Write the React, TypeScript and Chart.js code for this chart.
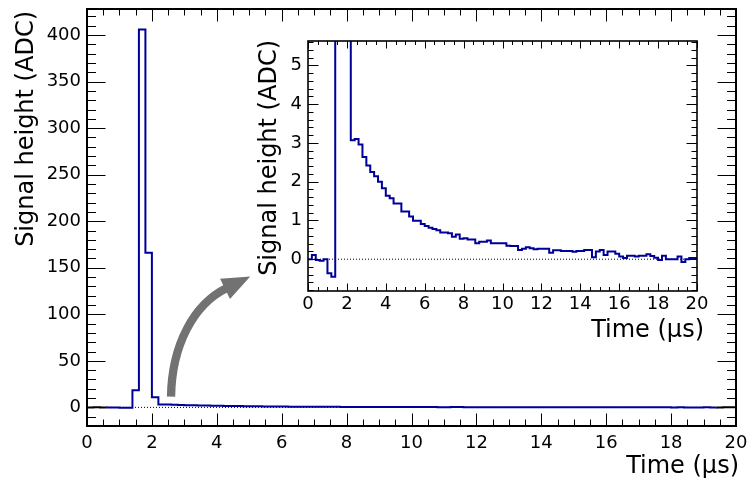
import React, { useEffect, useRef } from "react";
import { Chart, registerables } from "chart.js";

Chart.register(...registerables);

// ---------------- data ----------------
const BIN_WIDTH_US = 0.2;
const TIME_MIN_US = 0;
const TIME_MAX_US = 20;

// signal per 0.2 µs bin (ADC), bins start at 0, 0.2, 0.4 ... 19.8 µs
const signalADC = [
  0.0, 0.11, -0.02, -0.04, 0.0, -0.36, -0.45, 18.5, 406, 166,
  11, 3.07, 3.1, 2.96, 2.64, 2.42, 2.25, 2.14, 2.0, 1.83,
  1.64, 1.57, 1.44, 1.44, 1.23, 1.23, 1.1, 0.99, 0.99, 0.91,
  0.86, 0.81, 0.78, 0.75, 0.69, 0.69, 0.67, 0.58, 0.64, 0.53,
  0.54, 0.51, 0.51, 0.41, 0.45, 0.45, 0.48, 0.41, 0.41, 0.41,
  0.41, 0.35, 0.34, 0.34, 0.24, 0.27, 0.31, 0.28, 0.26, 0.27,
  0.27, 0.27, 0.17, 0.23, 0.23, 0.21, 0.21, 0.21, 0.19, 0.21,
  0.21, 0.24, 0.24, 0.05, 0.2, 0.24, 0.11, 0.2, 0.2, 0.14,
  0.07, 0.03, 0.09, 0.09, 0.07, 0.09, 0.09, 0.13, 0.08, 0.04,
  -0.02, 0.09, 0.0, 0.0, 0.0, 0.07, -0.07, 0.0, 0.03, 0.03,
];

const xTickValues = [0, 2, 4, 6, 8, 10, 12, 14, 16, 18, 20];
const mainYTickValues = [0, 50, 100, 150, 200, 250, 300, 350, 400];
const insetYTickValues = [0, 1, 2, 3, 4, 5];

const mainYRange = [-20, 428];
const insetYRange = [-0.82, 5.63];
const xMinorStep = 0.5;
const mainYMinorStep = 10;
const insetYMinorStep = 0.2;
const zeroLine = [
  { x: TIME_MIN_US, y: 0 },
  { x: TIME_MAX_US, y: 0 },
];
// main-chart segments drawn in black (outside the blue read-out window)
const blackBefore = 0.5;
const blackAfter = 19.3;
// arrow, in main-chart data coordinates (µs, ADC)
const arrowTail = { x: 2.59, y: 11.6 };
const arrowTip = { x: 5.03, y: 140.5 };

const xTitle = "Time (µs)";
const yTitle = "Signal height (ADC)";

// ---------------- style ----------------
const FONT = "'DejaVu Sans', Verdana, sans-serif";
const BLUE = "#000099";
const GREY = "#727272";
const TITLE_SIZE = 24;
const TICK_SIZE = 18;

function histogramPoints() {
  const pts = signalADC.map((v, i) => ({ x: TIME_MIN_US + i * BIN_WIDTH_US, y: v }));
  pts.push({ x: TIME_MIN_US + signalADC.length * BIN_WIDTH_US, y: signalADC[signalADC.length - 1] });
  return pts;
}

function tickValues(min: number, max: number, step: number) {
  const out: number[] = [];
  const k0 = Math.ceil(min / step - 1e-9);
  for (let k = k0; k * step <= max + 1e-9; k++) out.push(k * step);
  return out;
}

const rootFramePlugin = {
  id: "rootFrame",
  afterDatasetsDraw(chart: any, _args: any, opts: any) {
    const { ctx, chartArea: a } = chart;
    const xs = chart.scales.x;
    const ys = chart.scales.y;
    ctx.save();
    ctx.strokeStyle = "#000";
    ctx.lineWidth = 1;
    ctx.beginPath();
    const xSets: [number[], number][] = [
      [tickValues(xs.min, xs.max, opts.xMinorStep), opts.xMinorLen],
      [opts.xMajor, opts.xMajorLen],
    ];
    for (const [vals, len] of xSets) {
      for (const v of vals) {
        const px = Math.round(xs.getPixelForValue(v)) + 0.5;
        ctx.moveTo(px, a.bottom);
        ctx.lineTo(px, a.bottom - len);
        ctx.moveTo(px, a.top);
        ctx.lineTo(px, a.top + len);
      }
    }
    const ySets: [number[], number][] = [
      [tickValues(ys.min, ys.max, opts.yMinorStep), opts.yMinorLen],
      [opts.yMajor, opts.yMajorLen],
    ];
    for (const [vals, len] of ySets) {
      for (const v of vals) {
        const py = Math.round(ys.getPixelForValue(v)) + 0.5;
        ctx.moveTo(a.left, py);
        ctx.lineTo(a.left + len, py);
        ctx.moveTo(a.right, py);
        ctx.lineTo(a.right - len, py);
      }
    }
    ctx.stroke();
    ctx.lineWidth = opts.frameWidth;
    ctx.strokeRect(a.left, a.top, a.right - a.left, a.bottom - a.top);
    ctx.restore();
  },
};

// ROOT-style axis titles: right-aligned at the end of each axis
const axisTitlePlugin = {
  id: "axisTitles",
  afterDraw(chart: any, _args: any, opts: any) {
    const { ctx, chartArea: a } = chart;
    ctx.save();
    ctx.fillStyle = "#000";
    ctx.font = `${TITLE_SIZE}px ${FONT}`;
    ctx.textAlign = "right";
    ctx.textBaseline = "alphabetic";
    ctx.fillText(xTitle, a.right + opts.xDx, a.bottom + opts.xDy);
    ctx.translate(a.left - opts.yDx, a.top + opts.yDy);
    ctx.rotate(-Math.PI / 2);
    ctx.fillText(yTitle, 0, 0);
    ctx.restore();
  },
};

const arrowPlugin = {
  id: "curvedArrow",
  afterDraw(chart: any) {
    const { ctx } = chart;
    const xs = chart.scales.x;
    const ys = chart.scales.y;
    const T = { x: xs.getPixelForValue(arrowTail.x), y: ys.getPixelForValue(arrowTail.y) };
    const P = { x: xs.getPixelForValue(arrowTip.x), y: ys.getPixelForValue(arrowTip.y) };
    const dx = P.x - T.x;
    const dy = P.y - T.y;
    const hx = 0.9, hy = -0.44;
    const n = Math.hypot(hx, hy);
    const ux = hx / n, uy = hy / n;
    const headLen = 0.195 * Math.hypot(dx, dy);
    const headHalf = 11.3;
    const B = { x: P.x - ux * headLen, y: P.y - uy * headLen };
    ctx.save();
    ctx.strokeStyle = GREY;
    ctx.fillStyle = GREY;
    ctx.lineWidth = 8.3;
    ctx.lineCap = "butt";
    ctx.beginPath();
    ctx.moveTo(T.x, T.y);
    ctx.bezierCurveTo(
      T.x + 0.01 * dx, T.y + 0.43 * dy,
      B.x - ux * 35, B.y - uy * 35,
      B.x + ux * 2, B.y + uy * 2
    );
    ctx.stroke();
    ctx.beginPath();
    ctx.moveTo(P.x, P.y);
    ctx.lineTo(B.x - uy * headHalf, B.y + ux * headHalf);
    ctx.lineTo(B.x + uy * headHalf, B.y - ux * headHalf);
    ctx.closePath();
    ctx.fill();
    ctx.restore();
  },
};

function setTicks(values: number[]) {
  return (scale: any) => {
    scale.ticks = values.map((v) => ({ value: v }));
  };
}

interface PanelSpec {
  yRange: number[];
  yTicks: number[];
  yMinor: number;
  padding: { left: number; top: number; right: number; bottom: number };
  yWidth: number;
  xHeight: number;
  xLabelPad: number;
  yLabelPad: number;
  titles: any;
  frame: any;
  segmentBlack: boolean;
  extraPlugins: any[];
}

function makeConfig(spec: PanelSpec): any {
  const tickFont = { family: FONT, size: TICK_SIZE };
  return {
    type: "line",
    data: {
      datasets: [
        {
          data: histogramPoints(),
          borderColor: BLUE,
          borderWidth: 2,
          stepped: "before",
          pointRadius: 0,
          fill: false,
          segment: spec.segmentBlack
            ? {
                borderColor: (c: any) =>
                  c.p0.parsed.x < blackBefore || c.p0.parsed.x > blackAfter ? "#000" : BLUE,
              }
            : undefined,
        },
        {
          data: zeroLine,
          borderColor: "#000",
          borderWidth: 1,
          borderDash: [1, 2],
          pointRadius: 0,
          fill: false,
        },
      ],
    },
    options: {
      responsive: false,
      animation: false,
      devicePixelRatio: 1,
      events: [],
      layout: { padding: spec.padding },
      plugins: {
        legend: { display: false },
        tooltip: { enabled: false },
        rootFrame: spec.frame,
        axisTitles: spec.titles,
      },
      scales: {
        x: {
          type: "linear",
          min: TIME_MIN_US,
          max: TIME_MAX_US,
          afterBuildTicks: setTicks(xTickValues),
          afterFit: (s: any) => {
            s.height = spec.xHeight;
            s.paddingLeft = 0;
            s.paddingRight = 0;
          },
          grid: { display: false, drawTicks: false },
          border: { display: false },
          ticks: {
            autoSkip: false,
            maxRotation: 0,
            minRotation: 0,
            padding: spec.xLabelPad,
            color: "#000",
            font: tickFont,
          },
          title: { display: false },
        },
        y: {
          type: "linear",
          min: spec.yRange[0],
          max: spec.yRange[1],
          afterBuildTicks: setTicks(spec.yTicks),
          afterFit: (s: any) => {
            s.width = spec.yWidth;
            s.paddingTop = 0;
            s.paddingBottom = 0;
          },
          grid: { display: false, drawTicks: false },
          border: { display: false },
          ticks: {
            autoSkip: false,
            padding: spec.yLabelPad,
            color: "#000",
            font: tickFont,
          },
          title: { display: false },
        },
      },
    },
    plugins: [rootFramePlugin, axisTitlePlugin, ...spec.extraPlugins],
  };
}

export default function App() {
  const mainRef = useRef<HTMLCanvasElement>(null);
  const insetRef = useRef<HTMLCanvasElement>(null);

  useEffect(() => {
    const main = new Chart(
      mainRef.current as HTMLCanvasElement,
      makeConfig({
        yRange: mainYRange,
        yTicks: mainYTickValues,
        yMinor: mainYMinorStep,
        padding: { left: 0, top: 9, right: 11, bottom: 0 },
        yWidth: 87,
        xHeight: 60,
        xLabelPad: 7,
        yLabelPad: 6,
        titles: { xDx: 3, xDy: 47, yDx: 54, yDy: 2 },
        frame: {
          xMajor: xTickValues,
          xMinorStep: xMinorStep,
          yMajor: mainYTickValues,
          yMinorStep: mainYMinorStep,
          xMajorLen: 12.5,
          xMinorLen: 6.5,
          yMajorLen: 18.5,
          yMinorLen: 9,
          frameWidth: 2,
        },
        segmentBlack: true,
        extraPlugins: [arrowPlugin],
      })
    );
    const inset = new Chart(
      insetRef.current as HTMLCanvasElement,
      makeConfig({
        yRange: insetYRange,
        yTicks: insetYTickValues,
        yMinor: insetYMinorStep,
        padding: { left: 250, top: 41, right: 50, bottom: 140 },
        yWidth: 58,
        xHeight: 55,
        xLabelPad: 3,
        yLabelPad: 6,
        titles: { xDx: 7, xDy: 45.5, yDx: 32, yDy: -1 },
        frame: {
          xMajor: xTickValues,
          xMinorStep: xMinorStep,
          yMajor: insetYTickValues,
          yMinorStep: insetYMinorStep,
          xMajorLen: 7.5,
          xMinorLen: 4,
          yMajorLen: 10.5,
          yMinorLen: 5.5,
          frameWidth: 1.6,
        },
        segmentBlack: false,
        extraPlugins: [],
      })
    );
    return () => {
      main.destroy();
      inset.destroy();
    };
  }, []);

  const canvasStyle: React.CSSProperties = {
    position: "absolute",
    left: 0,
    top: 0,
    width: 747,
    height: 486,
  };

  return (
    <div style={{ position: "fixed", left: 0, top: 0, width: 747, height: 486, background: "#fff" }}>
      <canvas ref={mainRef} width={747} height={486} style={canvasStyle} />
      <canvas ref={insetRef} width={747} height={486} style={canvasStyle} />
    </div>
  );
}
